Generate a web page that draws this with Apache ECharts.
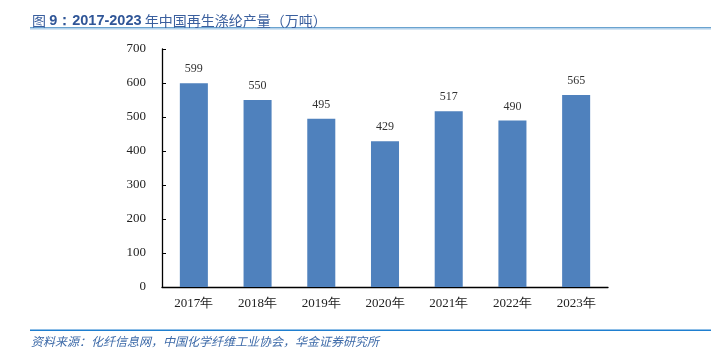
<!DOCTYPE html>
<html><head><meta charset="utf-8">
<script src="https://cdn.jsdelivr.net/npm/echarts@6/dist/echarts.min.js"></script>
<style>html,body{margin:0;padding:0;background:#fff}#c{width:720px;height:356px}</style>
</head><body><div id="c"></div>
<script>
const categories = ['2017年','2018年','2019年','2020年','2021年','2022年','2023年'];
const values = [599, 550, 495, 429, 517, 490, 565];
const yTicks = [0,100,200,300,400,500,600,700];
const titleText = '图 9：2017-2023 年中国再生涤纶产量（万吨）';
const sourceText = '资料来源：化纤信息网，中国化学纤维工业协会，华金证券研究所';

const chart = echarts.init(document.getElementById('c'), null, {renderer:'canvas'});
chart.setOption({
  animation:false,
  backgroundColor:'#fff',
  title:{
    text:'{a|图 }{b|9：2017-2023}{a| 年中国再生涤纶产量（万吨）}',
    left:27, top:8,
    textStyle:{
      fontWeight:'normal',
      rich:{
        a:{fontFamily:'Noto Sans CJK SC', fontSize:14, fontWeight:'normal', color:'#3a5f9e'},
        b:{fontFamily:'Liberation Sans', fontSize:14.5, fontWeight:'bold', color:'#2f5597'}
      }
    }
  },
  graphic:[
    {type:'rect', shape:{x:30,y:27,width:681,height:1.2}, style:{fill:'#6aa3cf'}},
    {type:'rect', shape:{x:30,y:28.2,width:681,height:1.2}, style:{fill:'#a9cbe8'}},
    {type:'rect', shape:{x:30,y:329.5,width:681,height:1.5}, style:{fill:'#1f7fd0'}},
    {type:'text', left:31, top:335, style:{text:sourceText, font:'italic 12px "Noto Sans CJK SC"', fill:'#3d6aa8'}}
  ],
  grid:{left:162, right:112, top:49, bottom:69},
  xAxis:{
    type:'category', data:categories,
    axisLine:{lineStyle:{color:'#000', width:1.3}},
    axisTick:{show:false},
    axisLabel:{fontFamily:'Liberation Serif', fontSize:13, color:'#222', margin:10}
  },
  yAxis:{
    type:'value', min:yTicks[0], max:yTicks[yTicks.length-1], interval:100,
    axisLine:{show:true, lineStyle:{color:'#000', width:1.3}},
    axisTick:{show:true, inside:true, length:4, lineStyle:{color:'#000'}},
    splitLine:{show:false},
    axisLabel:{fontFamily:'Liberation Serif', fontSize:13, color:'#222', margin:16}
  },
  series:[{
    type:'bar', data:values, barCategoryGap:'56%',
    itemStyle:{color:'#4f81bd'},
    label:{show:true, position:'top', distance:8, fontFamily:'Liberation Serif', fontSize:12, color:'#333'}
  }]
});
</script></body></html>
